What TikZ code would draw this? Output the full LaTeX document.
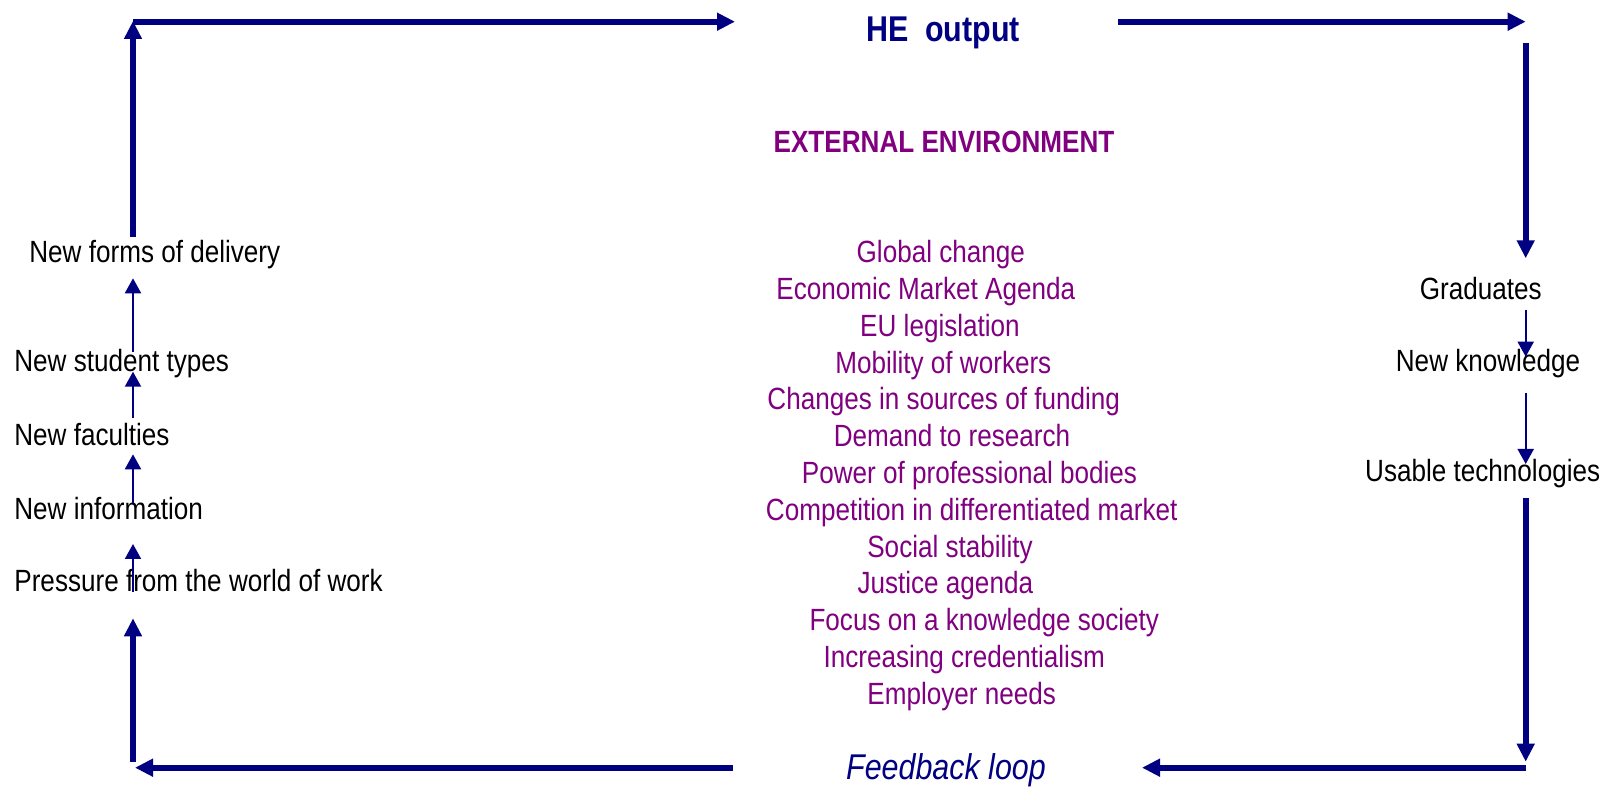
\documentclass[tikz,border=0pt]{standalone}
\usepackage{fontspec}
\setmainfont[FakeStretch=0.85]{Liberation Sans}
\usetikzlibrary{arrows.meta}
\definecolor{navy}{RGB}{0,0,128}
\definecolor{plum}{RGB}{128,0,128}
\tikzset{
  thickarrow/.style={draw=navy,line width=3pt,-{Triangle[length=9pt,width=8.5pt]}},
  thinarrow/.style={draw=navy,line width=1pt,-{Triangle[length=7.5pt,width=8pt]}},
  txt/.style={inner sep=0pt,font=\fontsize{15.35pt}{18pt}\selectfont},
  blk/.style={txt,text=black},
  env/.style={txt,text=plum,anchor=base},
  big/.style={inner sep=0pt,text=navy,anchor=base,font=\fontsize{17.9pt}{21pt}\selectfont}
}
\begin{document}
\begin{tikzpicture}[x=0.5pt,y=-0.5pt]
\useasboundingbox (0,0) rectangle (1618,795);
% titles
\node[big,font=\fontsize{17.9pt}{21pt}\selectfont\bfseries] (he) at (943,41.7) {HE\ \ output};
\node[env,font=\fontsize{15.35pt}{18pt}\selectfont\bfseries] (ext) at (944,153) {EXTERNAL ENVIRONMENT};
\node[big,font=\fontsize{17.9pt}{21pt}\selectfont\itshape] (fb) at (946,780) {Feedback loop};
% environment list
\node[env] (e1) at (940.8,262.7) {Global change};
\node[env] (e2) at (925.8,299.5) {Economic Market Agenda};
\node[env] (e3) at (940,336.3) {EU legislation};
\node[env] (e4) at (943.3,373.1) {Mobility of workers};
\node[env] (e5) at (943.7,409.9) {Changes in sources of funding};
\node[env] (e6) at (952,446.7) {Demand to research};
\node[env] (e7) at (969.5,483.5) {Power of professional bodies};
\node[env] (e8) at (971.7,520.3) {Competition in differentiated market};
\node[env] (e9) at (950,557.1) {Social stability};
\node[env] (e10) at (945.3,593.9) {Justice agenda};
\node[env] (e11) at (984.3,630.7) {Focus on a knowledge society};
\node[env] (e12) at (964.2,667.5) {Increasing credentialism};
\node[env] (e13) at (961.7,704.3) {Employer needs};
% left labels
\node[blk,anchor=base west] (l1) at (29,263) {New forms of delivery};
\node[blk,anchor=base west] (l2) at (14,371.7) {New student types};
\node[blk,anchor=base west] (l3) at (14,446) {New faculties};
\node[blk,anchor=base west] (l4) at (14,519.3) {New information};
\node[blk,anchor=base west] (l5) at (14,591.7) {Pressure from the world of work};
% right labels
\node[blk,anchor=base] (r1) at (1480.7,300) {Graduates};
\node[blk,anchor=base] (r2) at (1488,371.7) {New knowledge};
\node[blk,anchor=base] (r3) at (1482.7,481.7) {Usable technologies};
% coordinates
\coordinate (tlb) at (133,237);
\coordinate (tlt) at (133,21);
\coordinate (tls) at (133,21.7);
\coordinate (tle) at (735,21.7);
\coordinate (trs) at (1118,21.7);
\coordinate (tre) at (1525.7,21.7);
\coordinate (rvs) at (1525.7,42.7);
\coordinate (rve) at (1525.7,258.3);
\coordinate (rbs) at (1525.7,498.3);
\coordinate (rbe) at (1525.7,761.7);
\coordinate (brs) at (1525.7,767.7);
\coordinate (bre) at (1142,767.7);
\coordinate (bls) at (733,767.7);
\coordinate (ble) at (135,767.7);
\coordinate (lbs) at (133,761.7);
\coordinate (lbe) at (133,618.3);
% thin left
\coordinate (a1s) at (133,351.7); \coordinate (a1e) at (133,278.3);
\coordinate (a2s) at (133,418.3); \coordinate (a2e) at (133,371.7);
\coordinate (a3s) at (133,502.7); \coordinate (a3e) at (133,454.3);
\coordinate (a4s) at (133,591.7); \coordinate (a4e) at (133,544);
% thin right
\coordinate (b1s) at (1525.7,310); \coordinate (b1e) at (1525.7,356.7);
\coordinate (b2s) at (1525.7,393.3); \coordinate (b2e) at (1525.7,464);
% thick arrows
\draw[thickarrow] (tlb) -- (tlt);
\draw[thickarrow] (tls) -- (tle);
\draw[thickarrow] (trs) -- (tre);
\draw[thickarrow] (rvs) -- (rve);
\draw[thickarrow] (rbs) -- (rbe);
\draw[thickarrow] (brs) -- (bre);
\draw[thickarrow] (bls) -- (ble);
\draw[thickarrow] (lbs) -- (lbe);
% thin arrows
\draw[thinarrow] (a1s) -- (a1e);
\draw[thinarrow] (a2s) -- (a2e);
\draw[thinarrow] (a3s) -- (a3e);
\draw[thinarrow] (a4s) -- (a4e);
\draw[thinarrow] (b1s) -- (b1e);
\draw[thinarrow] (b2s) -- (b2e);
\end{tikzpicture}
\end{document}
